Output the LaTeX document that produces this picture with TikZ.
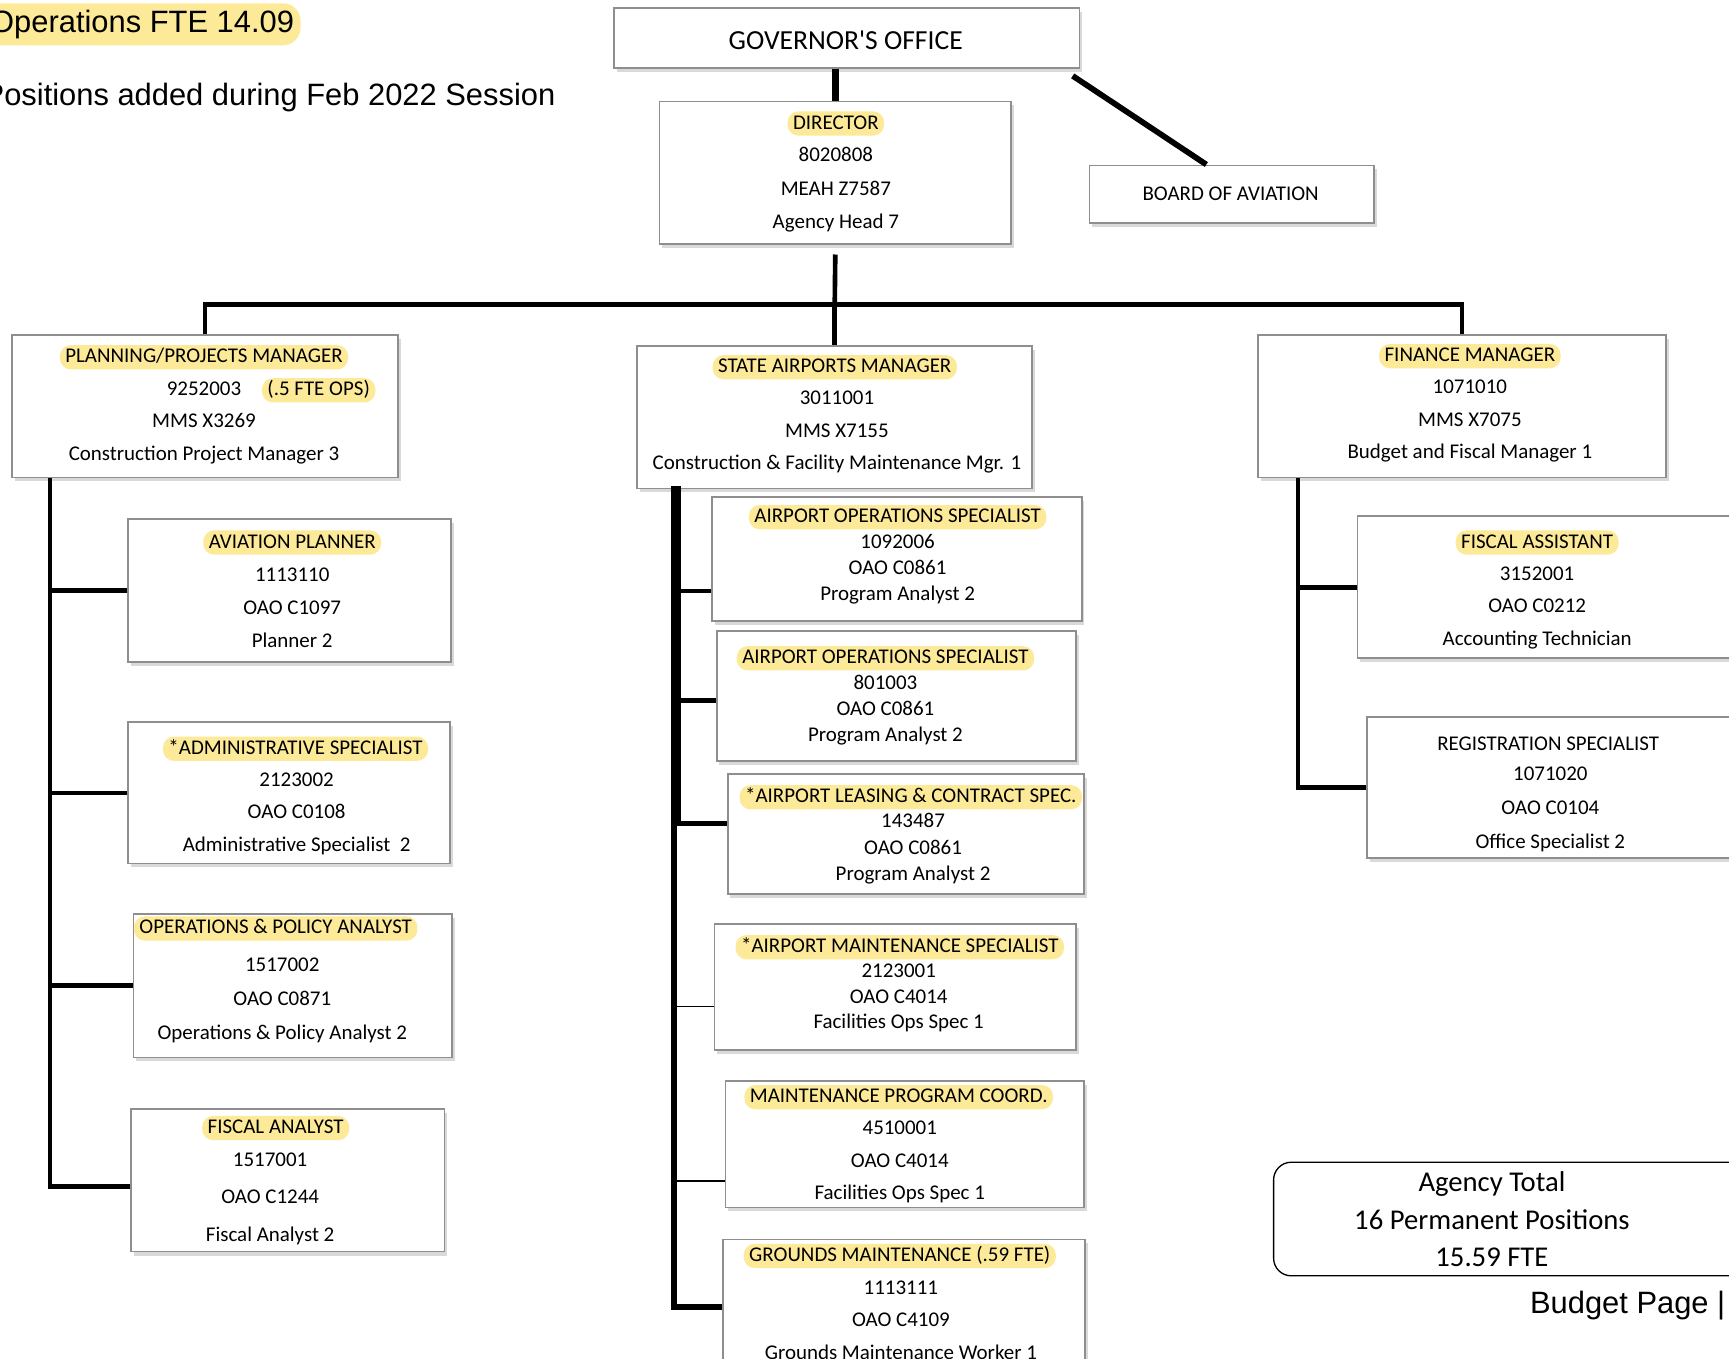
\documentclass[tikz,border=0pt]{standalone}
\usepackage{fontspec}
\setmainfont{Carlito}
\newfontfamily\arialfont{Liberation Sans}
\usepackage{xcolor}
\usetikzlibrary{fit,shadows,positioning}
\definecolor{hlyellow}{HTML}{FDEA98}
\definecolor{boxgray}{HTML}{8E8E8E}

\tikzset{
  post/.style={draw=boxgray, line width=0.8pt, fill=white, inner sep=0pt,
    drop shadow={shadow xshift=1.2pt, shadow yshift=-1.8pt, opacity=0.3}},
  hltitle/.style={fill=hlyellow, rounded corners=5pt, inner xsep=2.5pt, inner ysep=1.5pt, yshift=-1pt,
    text height=6.5pt, text depth=1.5pt, font=\fontsize{9.5}{11}\selectfont},
  txt/.style={inner sep=0pt, yshift=-1pt, text height=6.5pt, text depth=1.5pt, font=\fontsize{9.5}{11}\selectfont},
  datalines/.style={inner sep=0pt, yshift=-1pt, align=center, font=\fontsize{9.5}{#1}\selectfont},
  note/.style={inner sep=0pt, font=\arialfont\fontsize{14}{16}\selectfont},
  conn/.style={line width=2.1pt},
  thickconn/.style={line width=2.8pt},
  thinconn/.style={line width=0.5pt},
}

\begin{document}
\begin{tikzpicture}[x=0.5pt, y=-0.5pt]
\useasboundingbox (0,0) rectangle (1568,1232);

% Notes at the top
\node[note, fill=hlyellow, rounded corners=8pt, inner xsep=3pt, inner ysep=3pt, anchor=east] (ftenote) at (273,22) {Operations FTE 14.09};
\node[note, anchor=east] (sessnote) at (504,88.5) {Positions added during Feb 2022 Session};

% Top of the chart
\node[post, fit={(557,7) (979,62)}] (gov) {};
\node[txt, font=\fontsize{12.5}{14}\selectfont, text height=8.5pt, text depth=0pt] (gov-t) at (767,34) {GOVERNOR\textquotesingle S OFFICE};
\node[post, fit={(598,92) (917,221)}] (dir) {};
\node[hltitle] (dir-t) at (758,110) {DIRECTOR};
\node[datalines=15pt] (dir-d) at (758,170) {8020808\\MEAH Z7587\\Agency Head 7};
\node[post, fit={(988,150) (1246,202)}] (board) {};
\node[txt] (board-t) at (1116,175) {BOARD OF AVIATION};

% Managers
\node[post, fit={(11,304) (361,433)}] (plan) {};
\node[hltitle] (plan-t) at (185,322) {PLANNING/PROJECTS MANAGER};
\node[txt] (plan-n) at (185,352) {9252003};
\node[hltitle] (plan-f) at (289,352) {(.5 FTE OPS)};
\node[datalines=15pt] (plan-d) at (185,396) {MMS X3269\\Construction Project Manager 3};

\node[post, fit={(578,314) (936,443)}] (sam) {};
\node[hltitle] (sam-t) at (757,331) {STATE AIRPORTS MANAGER};
\node[datalines=14.75pt] (sam-d) at (759,390) {3011001\\MMS X7155\\Construction \& Facility Maintenance Mgr. 1};

\node[post, fit={(1141,304) (1511,433)}] (fin) {};
\node[hltitle] (fin-t) at (1333,321) {FINANCE MANAGER};
\node[datalines=14.75pt] (fin-d) at (1333,380) {1071010\\MMS X7075\\Budget and Fiscal Manager 1};

% Planning staff
\node[post, fit={(116,471) (409,600)}] (avp) {};
\node[hltitle] (avp-t) at (265,490) {AVIATION PLANNER};
\node[datalines=15pt] (avp-d) at (265,549) {1113110\\OAO C1097\\Planner 2};

\node[post, fit={(116,655) (408,783)}] (adm) {};
\node[hltitle] (adm-t) at (268,677) {*ADMINISTRATIVE SPECIALIST};
\node[datalines=14.75pt] (adm-d) at (269,736) {2123002\\OAO C0108\\Administrative Specialist~ 2};

\node[post, fit={(121,829) (410,959)}] (opa) {};
\node[hltitle] (opa-t) at (250,840) {OPERATIONS \& POLICY ANALYST};
\node[datalines=15.5pt] (opa-d) at (256,905) {1517002\\OAO C0871\\Operations \& Policy Analyst 2};

\node[post, fit={(119,1006) (403,1135)}] (fa) {};
\node[hltitle] (fa-t) at (250,1021) {FISCAL ANALYST};
\node[datalines=17pt] (fa-d) at (245,1085) {1517001\\OAO C1244\\Fiscal Analyst 2};

% Airports staff
\node[post, fit={(646,451) (981,563)}] (aos1) {};
\node[hltitle] (aos1-t) at (814,467) {AIRPORT OPERATIONS SPECIALIST};
\node[datalines=11.75pt] (aos1-d) at (814,514) {1092006\\OAO C0861\\Program Analyst 2};

\node[post, fit={(650,572) (976,690)}] (aos2) {};
\node[hltitle] (aos2-t) at (803,595) {AIRPORT OPERATIONS SPECIALIST};
\node[datalines=11.75pt] (aos2-d) at (803,642) {801003\\OAO C0861\\Program Analyst 2};

\node[post, fit={(660,702) (983,811)}] (lea) {};
\node[hltitle] (lea-t) at (826,721) {*AIRPORT LEASING \& CONTRACT SPEC.};
\node[datalines=12pt] (lea-d) at (828,768) {143487\\OAO C0861\\Program Analyst 2};

\node[post, fit={(648,838) (976,952)}] (msp) {};
\node[hltitle] (msp-t) at (816,857) {*AIRPORT MAINTENANCE SPECIALIST};
\node[datalines=11.75pt] (msp-d) at (815,903) {2123001\\OAO C4014\\Facilities Ops Spec 1};

\node[post, fit={(658,980) (983,1095)}] (mpc) {};
\node[hltitle] (mpc-t) at (815,993) {MAINTENANCE PROGRAM COORD.};
\node[datalines=14.75pt] (mpc-d) at (816,1052) {4510001\\OAO C4014\\Facilities Ops Spec 1};

\node[post, fit={(656,1124) (984,1260)}] (grd) {};
\node[hltitle] (grd-t) at (816,1137) {GROUNDS MAINTENANCE (.59 FTE)};
\node[datalines=14.75pt] (grd-d) at (817,1195) {1113111\\OAO C4109\\Grounds Maintenance Worker 1};

% Finance staff
\node[post, fit={(1231,468) (1600,597)}] (fas) {};
\node[hltitle] (fas-t) at (1394,490) {FISCAL ASSISTANT};
\node[datalines=14.75pt] (fas-d) at (1394,549) {3152001\\OAO C0212\\Accounting Technician};

\node[post, fit={(1240,650) (1600,778)}] (reg) {};
\node[txt] (reg-t) at (1404,674) {REGISTRATION SPECIALIST};
\node[datalines=15.5pt] (reg-d) at (1406,732) {1071020\\OAO C0104\\Office Specialist 2};

% Totals
\node[draw, line width=0.6pt, rounded corners=8pt, inner sep=0pt, fit={(1155,1054) (1600,1157)}] (total) {};
\node[datalines=17pt, font=\fontsize{13}{17pt}\selectfont] (total-d) at (1353,1104) {Agency Total\\16 Permanent Positions\\15.59 FTE};
\node[note, anchor=east] (budget) at (1565,1184) {Budget Page |};

% Draw the top connectors
\coordinate (bar) at (757,276);
\draw[line width=3.4pt] (gov.south -| dir.north) -- (dir.north);
\draw[line width=2.6pt] ([xshift=-3.5pt,yshift=-3pt]gov.south east) -- ([xshift=-11.5pt]board.north);
\draw[conn] ([yshift=-4.5pt]dir.south) -- (bar);
\draw[conn] (plan.north) -- (plan.north |- bar) -- (fin.north |- bar) -- (fin.north);
\draw[conn] (bar) -- (sam.north);

% Draw the left branch
\coordinate (ltop) at ([xshift=17.5pt]plan.south west);
\coordinate (fabr) at ([yshift=-2.75pt]fa.west);
\draw[conn] (ltop) |- (fabr);
\draw[conn] (avp.west) -- (avp.west -| ltop);
\draw[conn] (adm.west) -- (adm.west -| ltop);
\draw[conn] (opa.west) -- (opa.west -| ltop);

% Draw the middle branch
\coordinate (mtop) at ([xshift=17pt,yshift=1.5pt]sam.south west);
\coordinate (mtop2) at ([xshift=19pt,yshift=1.5pt]sam.south west);
\coordinate (aos1br) at ([yshift=-14.5pt]aos1.west);
\coordinate (aos2br) at ([yshift=-2pt]aos2.west);
\coordinate (leabr) at ([yshift=4.75pt]lea.west);
\coordinate (mspbr) at ([yshift=-9pt]msp.west);
\coordinate (mpcbr) at ([yshift=-16.75pt]mpc.west);
\coordinate (grdbr) at ([yshift=3.5pt]grd.west);
\draw[thickconn] (mtop) |- (grdbr);
\draw[conn] (mtop2) |- (aos1br);
\draw[conn] (mtop2) |- (aos2br);
\draw[conn] (mtop2) |- (leabr);
\draw[thinconn] (mspbr) -- (mspbr -| mtop);
\draw[thinconn] (mpcbr) -- (mpcbr -| mtop);

% Draw the right branch
\coordinate (rtop) at ([xshift=18.5pt]fin.south west);
\draw[conn] (rtop) |- (reg.west);
\draw[conn] (fas.west) -- (fas.west -| rtop);
\end{tikzpicture}
\end{document}
